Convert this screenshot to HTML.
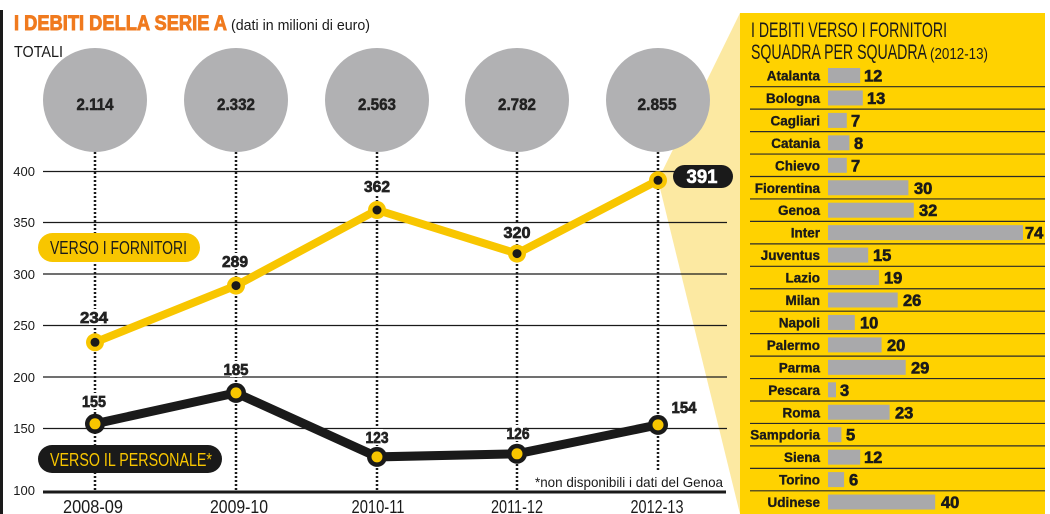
<!DOCTYPE html>
<html><head><meta charset="utf-8"><style>
html,body{margin:0;padding:0;background:#fff;}
svg{display:block;font-family:"Liberation Sans",Arial,sans-serif;}
</style></head><body>
<svg width="1050" height="514" viewBox="0 0 1050 514" xmlns="http://www.w3.org/2000/svg">
<rect width="1050" height="514" fill="#fff"/>
<!-- left black bar -->
<rect x="0" y="10" width="3" height="504" fill="#1a1a1a"/>
<!-- wedge -->
<polygon points="658,180 740,13 740,514" fill="#fce9a2"/>
<!-- title -->
<text x="14" y="30" font-size="21" font-weight="bold" fill="#f07a1e" stroke="#f07a1e" stroke-width="0.9" textLength="213" lengthAdjust="spacingAndGlyphs">I DEBITI DELLA SERIE A</text>
<text x="231" y="30" font-size="15" fill="#1a1a1a" textLength="139" lengthAdjust="spacingAndGlyphs">(dati in milioni di euro)</text>
<text x="14" y="57" font-size="16" fill="#1a1a1a" textLength="49" lengthAdjust="spacingAndGlyphs">TOTALI</text>
<!-- circles -->
<g fill="#b1b1b3">
<circle cx="95" cy="100" r="52"/><circle cx="236" cy="100" r="52"/><circle cx="377" cy="100" r="52"/><circle cx="517" cy="100" r="52"/><circle cx="658" cy="100" r="52"/>
</g>
<g font-size="17" font-weight="bold" fill="#222" stroke="#222" stroke-width="0.5" text-anchor="middle">
<text x="95" y="110" textLength="37" lengthAdjust="spacingAndGlyphs">2.114</text>
<text x="236" y="110" textLength="38" lengthAdjust="spacingAndGlyphs">2.332</text>
<text x="377" y="110" textLength="38" lengthAdjust="spacingAndGlyphs">2.563</text>
<text x="517" y="110" textLength="38" lengthAdjust="spacingAndGlyphs">2.782</text>
<text x="657" y="110" textLength="39" lengthAdjust="spacingAndGlyphs">2.855</text>
</g>
<!-- gridlines -->
<g stroke="#1a1a1a" stroke-width="1.2">
<line x1="43" y1="171.5" x2="727" y2="171.5"/>
<line x1="43" y1="222.5" x2="727" y2="222.5"/>
<line x1="43" y1="274" x2="727" y2="274"/>
<line x1="43" y1="325.5" x2="727" y2="325.5"/>
<line x1="43" y1="377" x2="727" y2="377"/>
<line x1="43" y1="428.5" x2="727" y2="428.5"/>
</g>
<rect x="43" y="490.5" width="683" height="3" fill="#1a1a1a"/>
<g font-size="13" fill="#1a1a1a" text-anchor="end">
<text x="35" y="176">400</text>
<text x="35" y="227">350</text>
<text x="35" y="279">300</text>
<text x="35" y="330">250</text>
<text x="35" y="382">200</text>
<text x="35" y="433">150</text>
<text x="35" y="495">100</text>
</g>
<!-- dotted verticals -->
<g stroke="#1a1a1a" stroke-width="2.5" stroke-dasharray="2 2">
<line x1="95" y1="152" x2="95" y2="490"/>
<line x1="236" y1="152" x2="236" y2="490"/>
<line x1="377" y1="152" x2="377" y2="490"/>
<line x1="517" y1="152" x2="517" y2="490"/>
<line x1="658" y1="152" x2="658" y2="472"/>
</g>
<!-- knockouts behind labels -->
<g fill="#fff">
<rect x="89" y="309" width="12" height="16"/>
<rect x="230" y="253" width="12" height="16"/>
<rect x="371" y="178" width="12" height="16"/>
<rect x="511" y="224" width="12" height="16"/>
<rect x="89" y="393" width="12" height="16"/>
<rect x="230" y="361" width="12" height="16"/>
<rect x="371" y="429" width="12" height="16"/>
<rect x="511" y="425" width="12" height="16"/>
</g>
<!-- yellow series -->
<polyline points="95,342.3 236,285.6 377,210 517,253.6 658,180.3" fill="none" stroke="#f8c600" stroke-width="8" stroke-linejoin="round"/>
<g fill="#f8c600"><circle cx="95" cy="342.3" r="9"/><circle cx="236" cy="285.6" r="9"/><circle cx="377" cy="210" r="9"/><circle cx="517" cy="253.6" r="9"/><circle cx="658" cy="180.3" r="9"/></g>
<g fill="#1a1a1a"><circle cx="95" cy="342.3" r="4.5"/><circle cx="236" cy="285.6" r="4.5"/><circle cx="377" cy="210" r="4.5"/><circle cx="517" cy="253.6" r="4.5"/><circle cx="658" cy="180.3" r="4.5"/></g>
<!-- black series -->
<polyline points="95,423.8 236,392.9 377,456.9 517,453.8 658,424.9" fill="none" stroke="#1a1a1a" stroke-width="9" stroke-linejoin="round"/>
<g fill="#1a1a1a"><circle cx="95" cy="423.8" r="10"/><circle cx="236" cy="392.9" r="10"/><circle cx="377" cy="456.9" r="10"/><circle cx="517" cy="453.8" r="10"/><circle cx="658" cy="424.9" r="10"/></g>
<g fill="#f8c600"><circle cx="95" cy="423.8" r="5.5"/><circle cx="236" cy="392.9" r="5.5"/><circle cx="377" cy="456.9" r="5.5"/><circle cx="517" cy="453.8" r="5.5"/><circle cx="658" cy="424.9" r="5.5"/></g>
<!-- value labels -->
<g font-size="16" font-weight="bold" fill="#222" stroke="#222" stroke-width="0.7" text-anchor="middle">
<text x="94" y="323" textLength="28" lengthAdjust="spacingAndGlyphs">234</text>
<text x="235" y="267" textLength="26" lengthAdjust="spacingAndGlyphs">289</text>
<text x="377" y="192" textLength="26" lengthAdjust="spacingAndGlyphs">362</text>
<text x="517" y="238" textLength="27" lengthAdjust="spacingAndGlyphs">320</text>
<text x="94" y="407" textLength="24" lengthAdjust="spacingAndGlyphs">155</text>
<text x="236" y="375" textLength="25" lengthAdjust="spacingAndGlyphs">185</text>
<text x="377" y="443" textLength="23" lengthAdjust="spacingAndGlyphs">123</text>
<text x="518" y="439" textLength="23" lengthAdjust="spacingAndGlyphs">126</text>
<text x="684" y="413" textLength="25" lengthAdjust="spacingAndGlyphs">154</text>
</g>
<!-- 391 pill -->
<rect x="673" y="165" width="60" height="23" rx="11.5" fill="#1a1a1a"/>
<text x="702" y="183" font-size="19" font-weight="bold" fill="#fff" stroke="#fff" stroke-width="0.6" text-anchor="middle" textLength="31" lengthAdjust="spacingAndGlyphs">391</text>
<!-- legend pills -->
<rect x="38" y="233" width="162" height="29" rx="14.5" fill="#f8c600"/>
<text x="50" y="254" font-size="18" fill="#1a1a1a" textLength="137" lengthAdjust="spacingAndGlyphs">VERSO I FORNITORI</text>
<rect x="38" y="445" width="184" height="28" rx="14" fill="#1a1a1a"/>
<text x="50" y="466" font-size="18" fill="#f8c600" textLength="162" lengthAdjust="spacingAndGlyphs">VERSO IL PERSONALE*</text>
<!-- footnote -->
<text x="535" y="487" font-size="14" fill="#1a1a1a" textLength="188" lengthAdjust="spacingAndGlyphs">*non disponibili i dati del Genoa</text>
<!-- x labels -->
<g font-size="18" fill="#1a1a1a" text-anchor="middle">
<text x="93" y="513" textLength="60" lengthAdjust="spacingAndGlyphs">2008-09</text>
<text x="239" y="513" textLength="58" lengthAdjust="spacingAndGlyphs">2009-10</text>
<text x="378" y="513" textLength="53" lengthAdjust="spacingAndGlyphs">2010-11</text>
<text x="517" y="513" textLength="52" lengthAdjust="spacingAndGlyphs">2011-12</text>
<text x="657" y="513" textLength="53" lengthAdjust="spacingAndGlyphs">2012-13</text>
</g>
<!-- right panel -->
<rect x="740" y="13" width="305" height="501" fill="#ffd200"/>
<text x="751" y="37" font-size="21" fill="#1a1a1a" textLength="196" lengthAdjust="spacingAndGlyphs">I DEBITI VERSO I FORNITORI</text>
<text x="751" y="59" font-size="21" fill="#1a1a1a" textLength="176" lengthAdjust="spacingAndGlyphs">SQUADRA PER SQUADRA</text>
<text x="930" y="59" font-size="16" fill="#1a1a1a" textLength="58" lengthAdjust="spacingAndGlyphs">(2012-13)</text>
<g stroke="#2a2a2a" stroke-width="1.2">
<line x1="750" y1="86.7" x2="1045" y2="86.7"/>
<line x1="750" y1="109.15" x2="1045" y2="109.15"/>
<line x1="750" y1="131.6" x2="1045" y2="131.6"/>
<line x1="750" y1="154.05" x2="1045" y2="154.05"/>
<line x1="750" y1="176.5" x2="1045" y2="176.5"/>
<line x1="750" y1="198.95" x2="1045" y2="198.95"/>
<line x1="750" y1="221.4" x2="1045" y2="221.4"/>
<line x1="750" y1="243.85" x2="1045" y2="243.85"/>
<line x1="750" y1="266.3" x2="1045" y2="266.3"/>
<line x1="750" y1="288.75" x2="1045" y2="288.75"/>
<line x1="750" y1="311.2" x2="1045" y2="311.2"/>
<line x1="750" y1="333.65" x2="1045" y2="333.65"/>
<line x1="750" y1="356.1" x2="1045" y2="356.1"/>
<line x1="750" y1="378.55" x2="1045" y2="378.55"/>
<line x1="750" y1="401" x2="1045" y2="401"/>
<line x1="750" y1="423.45" x2="1045" y2="423.45"/>
<line x1="750" y1="445.9" x2="1045" y2="445.9"/>
<line x1="750" y1="468.35" x2="1045" y2="468.35"/>
<line x1="750" y1="490.8" x2="1045" y2="490.8"/>
</g>
<g fill="#a9a9ab">
<rect x="828" y="68" width="32.2" height="15"/>
<rect x="828" y="90.45" width="34.8" height="15"/>
<rect x="828" y="112.9" width="18.8" height="15"/>
<rect x="828" y="135.35" width="21.4" height="15"/>
<rect x="828" y="157.8" width="18.8" height="15"/>
<rect x="828" y="180.25" width="80.4" height="15"/>
<rect x="828" y="202.7" width="85.8" height="15"/>
<rect x="828" y="225.15" width="195" height="15"/>
<rect x="828" y="247.6" width="40.2" height="15"/>
<rect x="828" y="270.05" width="50.9" height="15"/>
<rect x="828" y="292.5" width="69.7" height="15"/>
<rect x="828" y="314.95" width="26.8" height="15"/>
<rect x="828" y="337.4" width="53.6" height="15"/>
<rect x="828" y="359.85" width="77.7" height="15"/>
<rect x="828" y="382.3" width="8" height="15"/>
<rect x="828" y="404.75" width="61.6" height="15"/>
<rect x="828" y="427.2" width="13.4" height="15"/>
<rect x="828" y="449.65" width="32.2" height="15"/>
<rect x="828" y="472.1" width="16.1" height="15"/>
<rect x="828" y="494.55" width="107.2" height="15"/>
</g>
<g font-size="13.5" font-weight="bold" fill="#1a1a1a" stroke="#1a1a1a" stroke-width="0.35" text-anchor="end">
<text x="820" y="80.5">Atalanta</text>
<text x="820" y="102.95">Bologna</text>
<text x="820" y="125.4">Cagliari</text>
<text x="820" y="147.85">Catania</text>
<text x="820" y="170.3">Chievo</text>
<text x="820" y="192.75">Fiorentina</text>
<text x="820" y="215.2">Genoa</text>
<text x="820" y="237.65">Inter</text>
<text x="820" y="260.1">Juventus</text>
<text x="820" y="282.55">Lazio</text>
<text x="820" y="305">Milan</text>
<text x="820" y="327.45">Napoli</text>
<text x="820" y="349.9">Palermo</text>
<text x="820" y="372.35">Parma</text>
<text x="820" y="394.8">Pescara</text>
<text x="820" y="417.25">Roma</text>
<text x="820" y="439.7">Sampdoria</text>
<text x="820" y="462.15">Siena</text>
<text x="820" y="484.6">Torino</text>
<text x="820" y="507.05">Udinese</text>
</g>
<g font-size="16.5" font-weight="bold" fill="#1a1a1a" stroke="#1a1a1a" stroke-width="0.6">
<text x="864" y="81.5">12</text>
<text x="867" y="103.95">13</text>
<text x="851" y="126.4">7</text>
<text x="854" y="148.85">8</text>
<text x="851" y="171.3">7</text>
<text x="914" y="193.75">30</text>
<text x="919" y="216.2">32</text>
<text x="1025" y="238.65">74</text>
<text x="873" y="261.1">15</text>
<text x="884" y="283.55">19</text>
<text x="903" y="306">26</text>
<text x="860" y="328.45">10</text>
<text x="887" y="350.9">20</text>
<text x="911" y="373.35">29</text>
<text x="840" y="395.8">3</text>
<text x="895" y="418.25">23</text>
<text x="846" y="440.7">5</text>
<text x="864" y="463.15">12</text>
<text x="849" y="485.6">6</text>
<text x="941" y="508.05">40</text>
</g>
</svg>
</body></html>
